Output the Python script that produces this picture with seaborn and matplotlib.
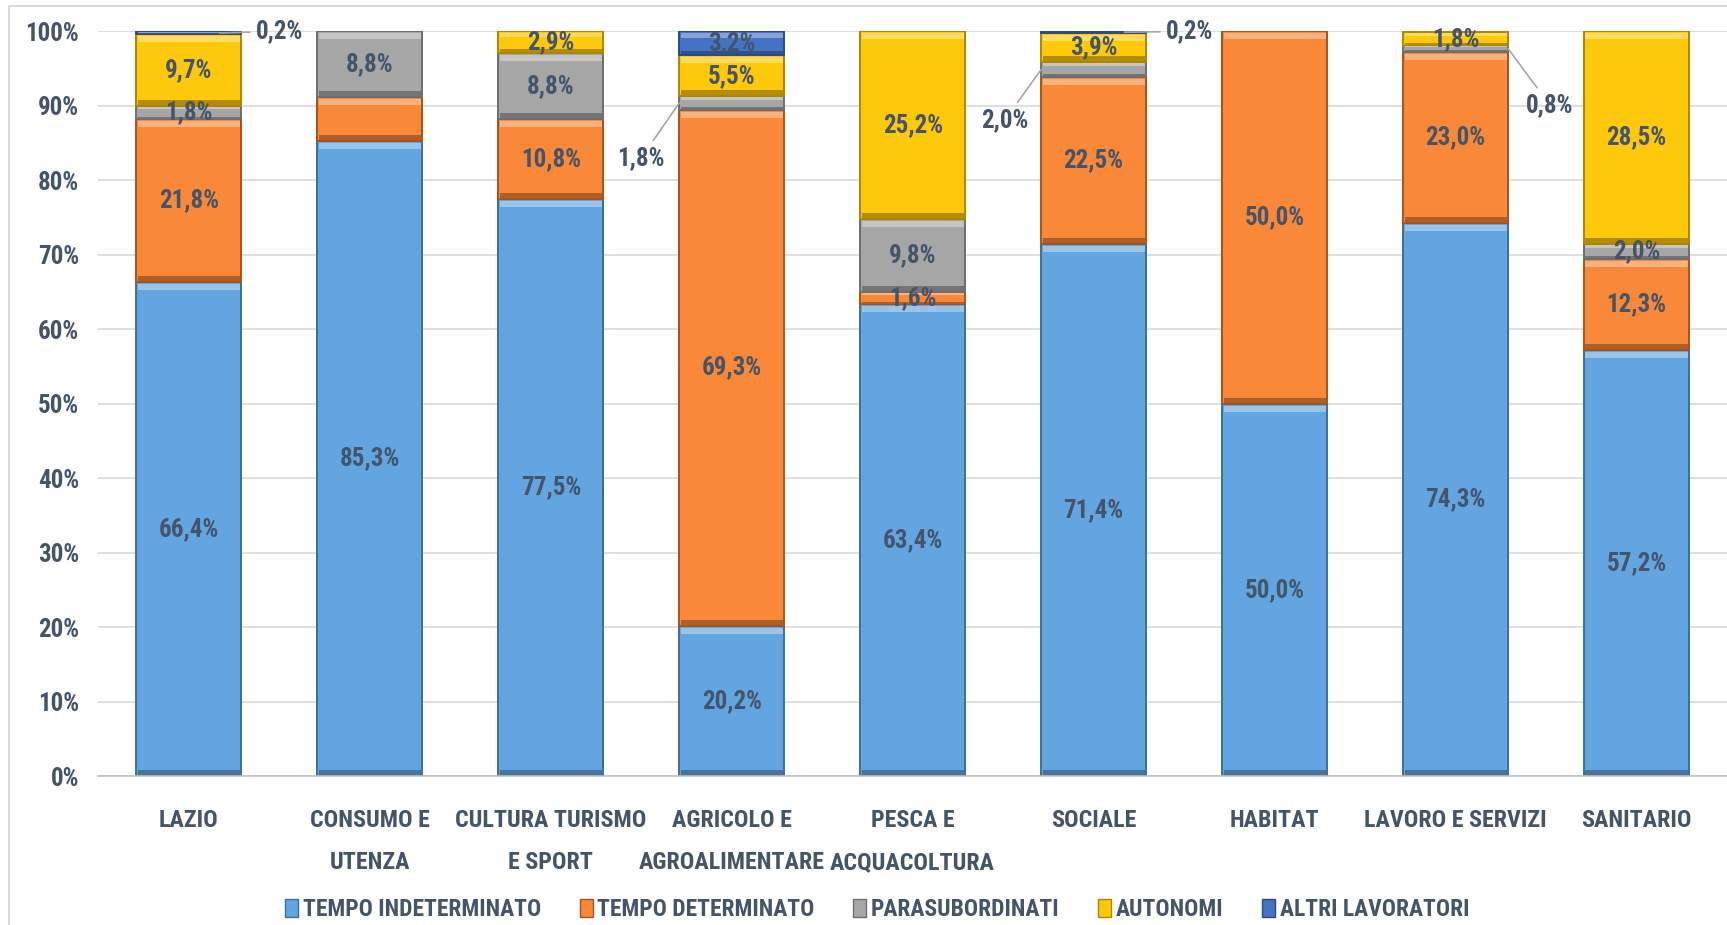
import numpy as np
import pandas as pd
import seaborn as sns
import matplotlib.pyplot as plt
from matplotlib import font_manager
from matplotlib.colors import to_rgb
from matplotlib.patches import Patch, Rectangle

# dati (percentuali per settore)
settori = ["LAZIO", "CONSUMO E\nUTENZA", "CULTURA TURISMO\nE SPORT", "AGRICOLO E\nAGROALIMENTARE",
           "PESCA E\nACQUACOLTURA", "SOCIALE", "HABITAT", "LAVORO E SERVIZI", "SANITARIO"]
serie = ["TEMPO INDETERMINATO", "TEMPO DETERMINATO", "PARASUBORDINATI", "AUTONOMI", "ALTRI LAVORATORI"]
tempo_indeterminato = [66.4, 85.3, 77.5, 20.2, 63.4, 71.4, 50.0, 74.3, 57.2]
tempo_determinato = [21.8, 5.9, 10.8, 69.3, 1.6, 22.5, 50.0, 23.0, 12.3]
parasubordinati = [1.8, 8.8, 8.8, 1.8, 9.8, 2.0, 0.0, 0.8, 2.0]
autonomi = [9.7, 0.0, 2.9, 5.5, 25.2, 3.9, 0.0, 1.8, 28.5]
altri_lavoratori = [0.2, 0.0, 0.0, 3.2, 0.0, 0.2, 0.0, 0.0, 0.0]

# etichette esterne con linea guida: (serie, settore)
esterne = [(4, 0), (2, 3), (2, 5), (4, 5), (2, 7)]
# etichette non mostrate
nascoste = [(1, 1)]

colori = ["#62A5E1", "#F98838", "#A6A6A6", "#FFC90B", "#4472C4"]
bordi = ["#3C6F9E", "#A8531A", "#6E6E6E", "#B08500", "#2A4A85"]
testo = "#44546A"

sns.set_theme(style="white")

# font stretto se disponibile
disponibili = {f.name for f in font_manager.fontManager.ttflist}
font, fs = "DejaVu Sans", 14
for nome, dim in [("Liberation Sans Narrow", 19), ("Roboto Condensed", 18),
                  ("DejaVu Sans Condensed", 15.5), ("Roboto", 15.5)]:
    if nome in disponibili:
        font, fs = nome, dim
        break
fs_x = fs * 0.96
plt.rcParams['font.family'] = [font, 'DejaVu Sans']
plt.rcParams['font.weight'] = 'bold'


def mix(c, w):
    # w > 0 schiarisce, w < 0 scurisce
    r = np.array(to_rgb(c))
    return tuple(r + (1 - r) * w) if w > 0 else tuple(r * (1 + w))


df = pd.DataFrame({"settore": settori, serie[0]: tempo_indeterminato, serie[1]: tempo_determinato,
                   serie[2]: parasubordinati, serie[3]: autonomi, serie[4]: altri_lavoratori})

fig = plt.figure(figsize=(17.27, 9.25), dpi=100)
ax = fig.add_axes([0.057, 0.161, 0.943, 0.805])

base = np.zeros(len(settori))
for k, s in enumerate(serie):
    sns.barplot(data=df, x="settore", y=s, bottom=base, color=colori[k], width=0.58,
                edgecolor=bordi[k], linewidth=1.4, saturation=1, ax=ax, zorder=3)
    cont = ax.containers[-1]
    for p in cont:
        h = p.get_height()
        if h == 0:
            p.set_linewidth(0)
            continue
        # effetto rilievo: striscia chiara in alto, scura in basso
        x0, y0, w = p.get_x(), p.get_y(), p.get_width()
        st = min(0.9, h * 0.22)
        ax.add_patch(Rectangle((x0 + 0.008, y0 + h - st * 1.2), w - 0.016, st * 0.9,
                               facecolor=mix(colori[k], 0.35), lw=0, zorder=3.5))
        ax.add_patch(Rectangle((x0 + 0.008, y0 + st * 0.15), w - 0.016, st * 0.75,
                               facecolor=mix(colori[k], -0.3), lw=0, zorder=3.5))
    for i, v in enumerate(df[s]):
        if v == 0 or (k, i) in nascoste or (k, i) in esterne:
            continue
        ax.text(i, base[i] + v / 2, f"{v:.1f}%".replace(".", ","), ha="center", va="center",
                fontsize=fs, color=testo, fontweight="bold", zorder=5)
    base = base + df[s].values

# etichette esterne
valori = [tempo_indeterminato, tempo_determinato, parasubordinati, autonomi, altri_lavoratori]
cum = np.cumsum(np.vstack(valori), axis=0)
guide = {(4, 0): (0.17, 0.37, 100.0, "left"),
         (2, 3): (-0.29, -0.37, 83.0, "right"),
         (2, 5): (-0.29, -0.36, 88.1, "right"),
         (4, 5): (0.17, 0.40, 100.0, "left"),
         (2, 7): (0.29, 0.39, 90.1, "left")}
for (k, i), (dx, tx, ty, ha) in guide.items():
    v = valori[k][i]
    y0 = cum[k][i] - v / 2
    ax.annotate(f"{v:.1f}%".replace(".", ","), xy=(i + dx, y0), xytext=(i + tx, ty),
                ha=ha, va="center", fontsize=fs, color=testo, fontweight="bold",
                arrowprops=dict(arrowstyle="-", color="#A6A6A6", lw=1.2, shrinkA=2, shrinkB=0),
                zorder=5)

ax.set_xlim(-0.5, len(settori) - 0.5)
ax.set_ylim(0, 100)
ax.set_yticks(range(0, 101, 10))
ax.set_yticklabels([f"{t}%" for t in range(0, 101, 10)], fontsize=fs, color=testo, fontweight="bold")
ax.set_xticks(range(len(settori)))
ax.set_xticklabels(settori, fontsize=fs_x, color=testo, fontweight="bold", linespacing=2.05)
ax.tick_params(axis="x", length=0, pad=24)
ax.tick_params(axis="y", length=0, pad=14)
ax.set_xlabel("")
ax.set_ylabel("")
ax.yaxis.grid(True, color="#D9D9D9", lw=1.2, zorder=0)
ax.set_axisbelow(True)
for sp in ["top", "right", "left"]:
    ax.spines[sp].set_visible(False)
ax.spines["bottom"].set_color("#BFBFBF")
ax.spines["bottom"].set_linewidth(1.2)
ax.spines["bottom"].set_zorder(4)

handles = [Patch(facecolor=colori[k], edgecolor=bordi[k], label=serie[k]) for k in range(len(serie))]
leg = fig.legend(handles=handles, loc="lower center", bbox_to_anchor=(0.508, -0.019), ncol=5,
                 frameon=False, fontsize=fs * 0.94, handlelength=0.55, handleheight=0.8,
                 handletextpad=0.2, columnspacing=1.65)
for t in leg.get_texts():
    t.set_color(testo)
    t.set_fontweight("bold")

fig.add_artist(Rectangle((0.005, -0.1), 1.2, 1.094, transform=fig.transFigure,
                         fill=False, edgecolor="#D9D9D9", lw=1.5))

fig.savefig("out.png", dpi=100)
